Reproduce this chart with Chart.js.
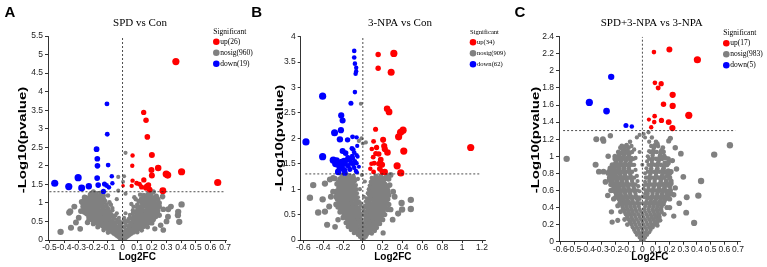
<!DOCTYPE html>
<html>
<head>
<meta charset="utf-8">
<script src="https://cdn.jsdelivr.net/npm/chart.js@4.4.1/dist/chart.umd.min.js"></script>
<style>
html, body { margin: 0; padding: 0; background: #fff; }
#wrap { position: relative; width: 767px; height: 267px; overflow: hidden; background: #fff; }
canvas { position: absolute; top: 0; }
</style>
</head>
<body>
<div id="wrap">
  <canvas id="chartA" width="256" height="267" style="left:0px"></canvas>
  <canvas id="chartB" width="262" height="267" style="left:250px"></canvas>
  <canvas id="chartC" width="257" height="267" style="left:510px"></canvas>
</div>
<script>
/* threshold lines */
const pThreshold = 1.3;

/* panel A: SPD vs Con */
const titleA = "SPD vs Con";
const legendA = ["up(26)", "nosig(960)", "down(19)"];
const xTicksA = [-0.5, -0.4, -0.3, -0.2, -0.1, 0, 0.1, 0.2, 0.3, 0.4, 0.5, 0.6, 0.7];
const yTicksA = [0, 0.5, 1, 1.5, 2, 2.5, 3, 3.5, 4, 4.5, 5, 5.5];
const upA = [[0.364,4.81],[0.144,3.44],[0.160,3.23],[0.169,2.78],[0.200,2.29],[0.068,2.28],[0.066,2.00],[0.243,1.94],[0.197,1.89],[0.200,1.74],[0.298,1.78],[0.308,1.75],[0.403,1.84],[0.650,1.55],[0.068,1.60],[0.096,1.53],[0.145,1.62],[0.062,1.46],[0.130,1.43],[0.159,1.40],[0.176,1.48],[0.165,1.45],[0.275,1.33],[0.003,1.46],[0.115,1.50],[0.185,1.36]];
const downA = [[-0.107,3.67],[-0.105,2.85],[-0.178,2.45],[-0.173,2.19],[-0.172,2.00],[-0.099,2.02],[-0.074,1.72],[-0.174,1.67],[-0.304,1.68],[-0.464,1.53],[-0.368,1.44],[-0.280,1.40],[-0.231,1.45],[-0.167,1.48],[-0.124,1.51],[-0.070,1.53],[-0.094,1.42],[-0.131,1.31],[-0.110,1.47]];
const nosigA = [
[-0.01,0.02],[0.01,0.02],[-0.02,0.05],[0,0.05],[0.02,0.05],
[-0.03,0.08],[-0.01,0.08],[0.01,0.08],[0.03,0.08],
[-0.04,0.11],[-0.02,0.11],[0,0.11],[0.02,0.11],[0.04,0.11],
[-0.05,0.14],[-0.03,0.14],[0,0.14],[0.03,0.14],[0.05,0.14],
[-0.06,0.17],[-0.035,0.17],[-0.01,0.17],[0.015,0.17],[0.04,0.17],[0.06,0.17],
[-0.07,0.2],[-0.045,0.2],[-0.02,0.2],[0.005,0.2],[0.03,0.2],[0.055,0.2],[0.075,0.2],
[-0.08,0.23],[-0.055,0.23],[-0.03,0.23],[0,0.23],[0.025,0.23],[0.05,0.23],[0.08,0.23],
[-0.09,0.26],[-0.06,0.26],[-0.035,0.26],[-0.01,0.26],[0.02,0.26],[0.045,0.26],[0.07,0.26],[0.095,0.26],
[-0.1,0.29],[-0.075,0.29],[-0.045,0.29],[-0.015,0.3],[0.03,0.29],[0.06,0.29],[0.085,0.29],[0.11,0.29],
[-0.115,0.32],[-0.085,0.32],[-0.055,0.32],[-0.02,0.33],[0.01,0.34],[0.04,0.32],[0.07,0.32],[0.1,0.32],[0.125,0.32],
[-0.13,0.35],[-0.1,0.35],[-0.065,0.35],[0.05,0.35],[0.08,0.35],[0.11,0.35],[0.14,0.35],
[-0.14,0.38],[-0.11,0.38],[-0.08,0.38],[-0.045,0.38],[0.045,0.38],[0.075,0.38],[0.1,0.38],[0.13,0.38],[0.155,0.38],
[-0.155,0.42],[-0.12,0.42],[-0.09,0.42],[-0.055,0.42],[-0.02,0.44],[0.02,0.45],[0.055,0.42],[0.09,0.42],[0.12,0.42],[0.16,0.42],
[-0.17,0.45],[-0.135,0.45],[-0.1,0.45],[-0.065,0.45],[0.06,0.45],[0.1,0.45],[0.135,0.45],[0.17,0.45],
[-0.18,0.49],[-0.145,0.49],[-0.11,0.49],[-0.075,0.49],[0.07,0.49],[0.105,0.49],[0.14,0.49],[0.175,0.49],
[-0.19,0.53],[-0.155,0.53],[-0.12,0.53],[-0.085,0.53],[-0.04,0.55],[0.04,0.56],[0.08,0.53],[0.115,0.53],[0.15,0.53],[0.185,0.53],
[-0.2,0.57],[-0.165,0.57],[-0.13,0.57],[-0.095,0.57],[0.085,0.57],[0.125,0.57],[0.16,0.57],[0.195,0.57],
[-0.21,0.61],[-0.175,0.61],[-0.14,0.61],[-0.1,0.61],[0.095,0.61],[0.135,0.61],[0.17,0.61],[0.2,0.61],
[-0.22,0.65],[-0.185,0.65],[-0.15,0.65],[-0.11,0.65],[-0.05,0.66],[0.05,0.68],[0.1,0.65],[0.14,0.65],[0.18,0.65],[0.21,0.65],
[-0.225,0.69],[-0.19,0.69],[-0.155,0.69],[-0.115,0.69],[0.11,0.69],[0.15,0.69],[0.19,0.69],
[-0.23,0.73],[-0.195,0.73],[-0.16,0.73],[-0.12,0.73],[0.115,0.73],[0.155,0.73],[0.2,0.73],
[-0.24,0.78],[-0.2,0.78],[-0.165,0.78],[-0.125,0.78],[-0.07,0.8],[0.07,0.8],[0.12,0.78],[0.165,0.78],[0.205,0.78],
[-0.25,0.83],[-0.21,0.83],[-0.17,0.83],[-0.13,0.83],[0.13,0.83],[0.17,0.83],[0.215,0.83],
[-0.245,0.88],[-0.215,0.88],[-0.18,0.88],[-0.14,0.88],[0.135,0.88],[0.18,0.88],[0.22,0.88],
[-0.25,0.93],[-0.22,0.93],[-0.185,0.93],[-0.145,0.93],[-0.08,0.95],[0.06,0.97],[0.14,0.93],[0.185,0.93],[0.225,0.93],
[-0.26,0.98],[-0.225,0.98],[-0.19,0.98],[-0.15,0.98],[0.145,0.98],[0.19,0.98],[0.24,0.98],
[-0.28,1.03],[-0.23,1.03],[-0.195,1.03],[-0.155,1.03],[0.15,1.03],[0.2,1.03],
[-0.24,1.08],[-0.2,1.08],[-0.16,1.08],[-0.04,1.1],[0.16,1.08],[0.205,1.08],
[-0.245,1.13],[-0.205,1.13],[-0.165,1.13],[0.08,1.15],[0.165,1.13],[0.21,1.13],
[-0.21,1.18],[-0.17,1.18],[-0.1,1.2],[0.17,1.18],[0.12,1.22],
[-0.22,1.23],[-0.15,1.27],[0.02,1.25],[0.175,1.23],[0.21,1.3],[-0.2,1.3],
[-0.03,1.7],[0.01,1.72],[0.02,2.35],[0.003,1.57],[-0.03,1.33],
[-0.424,0.22],[-0.353,0.33],[-0.365,0.74],[-0.358,0.77],[-0.319,0.47],[-0.285,0.78],[-0.27,1.0],[-0.24,0.47],[-0.228,0.63],[-0.3,0.6],[-0.33,0.9],[-0.29,0.3],
[0.278,0.83],[0.312,0.83],[0.31,0.63],[0.278,0.27],[0.38,0.76],[0.378,0.67],[0.403,0.96],[0.387,0.49],[0.25,0.67],[0.273,1.17],[0.3,0.5],[0.26,0.4],[0.33,0.9],[0.24,1.1],[0.22,0.3],
[-0.03,0.36],[0,0.37],[0.025,0.39],[-0.015,0.41],[-0.035,0.47],[0,0.48],[0.035,0.5],[-0.02,0.51],[0.015,0.53],[-0.06,0.6],[-0.025,0.6],[0.01,0.6],[0.05,0.61],
[-0.08,0.7],[-0.04,0.72],[0.02,0.72],[0.07,0.72],[-0.09,0.77],[0.09,0.76],[-0.1,0.85],[-0.07,0.86],[0.1,0.88],[0.075,0.9],[-0.11,0.95],[0.1,0.95],
[-0.12,1.05],[-0.09,1.02],[0.11,1.04],[0.09,1.1],[-0.13,1.12],[0.125,1.1],[-0.07,0.66],[0.075,0.64],[-0.085,0.5],[0.085,0.48],[-0.1,0.42],[-0.11,0.9],
[0.11,0.82],[-0.095,0.68],[0.095,0.7],[-0.13,1.2],[0.14,1.2],[-0.18,1.25],[0.19,1.26],[-0.26,1.15],[0.23,1.18],[-0.27,0.9],[0.25,0.9],[-0.26,0.75],
[0.24,0.78],[-0.23,0.55],[0.21,0.55],[-0.2,0.44],[0.2,0.46],[-0.17,0.35],[0.17,0.35],[-0.13,0.27],[0.13,0.26],[-0.1,0.2],[0.1,0.21],
[-0.165,0.4],[-0.13,0.4],[-0.095,0.4],[-0.06,0.4],[0.065,0.4],[0.105,0.4],[0.145,0.4],
[-0.19,0.47],[-0.155,0.47],[-0.12,0.47],[-0.085,0.47],[-0.05,0.47],[0.05,0.47],[0.085,0.47],[0.12,0.47],[0.155,0.47],[0.19,0.47],
[-0.21,0.55],[-0.175,0.55],[-0.14,0.55],[-0.105,0.55],[-0.065,0.55],[0.065,0.55],[0.1,0.55],[0.135,0.55],[0.17,0.55],[0.205,0.55],
[-0.23,0.63],[-0.195,0.63],[-0.16,0.63],[-0.125,0.63],[-0.085,0.63],[0.08,0.63],[0.115,0.63],[0.155,0.63],[0.19,0.63],[0.225,0.63],
[-0.245,0.71],[-0.21,0.71],[-0.175,0.71],[-0.14,0.71],[-0.1,0.71],[0.1,0.71],[0.13,0.71],[0.17,0.71],[0.21,0.71],[0.235,0.71],
[-0.26,0.8],[-0.225,0.8],[-0.185,0.8],[-0.145,0.8],[-0.105,0.8],[0.1,0.8],[0.145,0.8],[0.185,0.8],[0.225,0.8],
[-0.265,0.9],[-0.23,0.9],[-0.195,0.9],[-0.16,0.9],[-0.125,0.9],[0.12,0.9],[0.16,0.9],[0.2,0.9],[0.24,0.9],
[-0.27,1.0],[-0.24,1.0],[-0.21,1.0],[-0.17,1.0],[-0.135,1.0],[0.13,1.0],[0.17,1.0],[0.215,1.0],[0.25,1.0],
[-0.26,1.1],[-0.22,1.1],[-0.18,1.1],[-0.145,1.1],[0.14,1.1],[0.185,1.1],[0.225,1.1],
[-0.19,1.2],[-0.15,1.2],[0.15,1.2],[0.195,1.2]
];

/* panel B: 3-NPA vs Con */
const titleB = "3-NPA vs Con";
const legendB = ["up(34)", "nosig(909)", "down(62)"];
const xTicksB = [-0.6, -0.4, -0.2, 0, 0.2, 0.4, 0.6, 0.8, 1, 1.2];
const yTicksB = [0, 0.5, 1, 1.5, 2, 2.5, 3, 3.5, 4];
const upB = [[0.154,3.65],[0.312,3.67],[0.154,3.38],[0.285,3.30],[0.244,2.58],[0.264,2.52],[0.128,2.18],[0.405,2.16],[0.380,2.12],[0.360,2.03],[0.108,1.94],[0.204,1.97],[0.138,1.82],[0.215,1.85],[0.221,1.79],[0.090,1.79],[0.160,1.69],[0.248,1.72],[0.104,1.63],[0.412,1.75],[1.086,1.82],[0.087,1.50],[0.114,1.51],[0.161,1.50],[0.194,1.48],[0.345,1.46],[0.171,1.40],[0.198,1.34],[0.221,1.34],[0.382,1.32],[0.108,1.34],[0.180,1.58],[0.130,1.70],[0.075,1.40]];
const downB = [[-0.087,3.72],[-0.087,3.59],[-0.080,3.47],[-0.067,3.39],[-0.067,3.32],[-0.073,3.27],[-0.080,2.91],[-0.405,2.83],[-0.120,2.69],[-0.218,2.45],[-0.204,2.35],[-0.285,2.11],[-0.221,2.16],[-0.573,1.93],[-0.231,1.98],[-0.154,1.97],[-0.104,2.03],[-0.063,2.02],[-0.057,1.85],[-0.204,1.75],[-0.174,1.71],[-0.097,1.78],[-0.087,1.72],[-0.107,1.65],[-0.063,1.67],[-0.405,1.64],[-0.298,1.57],[-0.265,1.56],[-0.214,1.54],[-0.164,1.57],[-0.131,1.59],[-0.080,1.55],[-0.053,1.64],[-0.248,1.48],[-0.181,1.50],[-0.148,1.46],[-0.097,1.48],[-0.063,1.51],[-0.231,1.41],[-0.188,1.38],[-0.131,1.39],[-0.087,1.42],[-0.040,1.44],[-0.248,1.34],[-0.181,1.32],[-0.070,1.36],[-0.214,1.45],[-0.120,1.52],[-0.150,1.62],[-0.110,1.80],[-0.190,1.56],[-0.060,1.33],[-0.275,1.50],[-0.100,1.60]];
const nosigB = [
[-0.01,0.02],[0.01,0.03],[-0.03,0.06],[0,0.06],[0.03,0.06],
[-0.05,0.1],[-0.02,0.1],[0.01,0.1],[0.04,0.1],
[-0.06,0.14],[-0.03,0.14],[0,0.14],[0.03,0.14],[0.06,0.14],
[-0.08,0.18],[-0.045,0.18],[-0.01,0.18],[0.02,0.18],[0.05,0.18],[0.08,0.18],
[-0.1,0.22],[-0.065,0.22],[-0.03,0.22],[0,0.22],[0.035,0.22],[0.07,0.22],[0.1,0.22],
[-0.12,0.26],[-0.085,0.26],[-0.05,0.26],[-0.015,0.26],[0.02,0.26],[0.055,0.26],[0.09,0.26],[0.12,0.26],
[-0.13,0.3],[-0.095,0.3],[-0.06,0.3],[-0.025,0.3],[0.01,0.3],[0.045,0.3],[0.08,0.3],[0.115,0.3],[0.14,0.3],
[-0.14,0.34],[-0.105,0.34],[-0.07,0.34],[-0.035,0.34],[0,0.34],[0.035,0.34],[0.07,0.34],[0.105,0.34],[0.14,0.34],
[-0.15,0.38],[-0.115,0.38],[-0.08,0.38],[-0.045,0.38],[-0.01,0.38],[0.03,0.38],[0.065,0.38],[0.1,0.38],[0.135,0.38],[0.16,0.38],
[-0.16,0.42],[-0.125,0.42],[-0.09,0.42],[-0.055,0.42],[-0.02,0.42],[0.025,0.42],[0.06,0.42],[0.095,0.42],[0.13,0.42],[0.165,0.42],
[-0.17,0.46],[-0.135,0.46],[-0.1,0.46],[-0.065,0.46],[-0.03,0.46],[0.03,0.46],[0.065,0.46],[0.1,0.46],[0.135,0.46],[0.17,0.46],
[-0.18,0.5],[-0.145,0.5],[-0.11,0.5],[-0.075,0.5],[-0.04,0.5],[0.035,0.5],[0.07,0.5],[0.105,0.5],[0.14,0.5],[0.175,0.5],
[-0.19,0.54],[-0.155,0.54],[-0.12,0.54],[-0.085,0.54],[-0.05,0.54],[0.04,0.54],[0.075,0.54],[0.11,0.54],[0.145,0.54],[0.18,0.54],
[-0.2,0.58],[-0.165,0.58],[-0.13,0.58],[-0.095,0.58],[-0.055,0.58],[0.045,0.58],[0.08,0.58],[0.115,0.58],[0.15,0.58],[0.19,0.58],
[-0.21,0.62],[-0.175,0.62],[-0.14,0.62],[-0.1,0.62],[-0.06,0.62],[0.05,0.62],[0.085,0.62],[0.12,0.62],[0.16,0.62],[0.2,0.62],
[-0.215,0.66],[-0.18,0.66],[-0.145,0.66],[-0.105,0.66],[-0.065,0.66],[0.055,0.66],[0.09,0.66],[0.13,0.66],[0.17,0.66],[0.21,0.66],
[-0.22,0.7],[-0.185,0.7],[-0.15,0.7],[-0.11,0.7],[-0.07,0.7],[-0.02,0.72],[0.06,0.7],[0.1,0.7],[0.14,0.7],[0.18,0.7],[0.22,0.7],
[-0.225,0.74],[-0.19,0.74],[-0.155,0.74],[-0.115,0.74],[-0.075,0.74],[0.065,0.74],[0.105,0.74],[0.145,0.74],[0.185,0.74],[0.225,0.74],
[-0.23,0.78],[-0.195,0.78],[-0.16,0.78],[-0.12,0.78],[-0.08,0.78],[0.07,0.78],[0.11,0.78],[0.15,0.78],[0.19,0.78],[0.23,0.78],
[-0.235,0.82],[-0.2,0.82],[-0.165,0.82],[-0.125,0.82],[-0.085,0.82],[0.075,0.82],[0.115,0.82],[0.155,0.82],[0.195,0.82],[0.235,0.82],
[-0.24,0.86],[-0.205,0.86],[-0.17,0.86],[-0.13,0.86],[-0.09,0.86],[0.01,0.85],[0.08,0.86],[0.12,0.86],[0.16,0.86],[0.2,0.86],[0.24,0.86],
[-0.245,0.9],[-0.21,0.9],[-0.175,0.9],[-0.135,0.9],[-0.095,0.9],[0.085,0.9],[0.125,0.9],[0.165,0.9],[0.205,0.9],
[-0.25,0.94],[-0.215,0.94],[-0.18,0.94],[-0.14,0.94],[-0.1,0.94],[0.09,0.94],[0.13,0.94],[0.17,0.94],[0.21,0.94],[0.25,0.94],
[-0.215,0.98],[-0.18,0.98],[-0.14,0.98],[-0.1,0.98],[-0.03,1.0],[0.095,0.98],[0.135,0.98],[0.175,0.98],[0.215,0.98],
[-0.22,1.02],[-0.185,1.02],[-0.145,1.02],[-0.105,1.02],[0.1,1.02],[0.14,1.02],[0.18,1.02],[0.22,1.02],
[-0.225,1.06],[-0.19,1.06],[-0.15,1.06],[-0.11,1.06],[0.105,1.06],[0.145,1.06],[0.185,1.06],
[-0.23,1.1],[-0.195,1.1],[-0.155,1.1],[-0.115,1.1],[0.11,1.1],[0.15,1.1],[0.19,1.1],
[-0.2,1.14],[-0.16,1.14],[-0.12,1.14],[0.02,1.15],[0.115,1.14],[0.155,1.14],[0.2,1.14],
[-0.205,1.18],[-0.165,1.18],[-0.125,1.18],[0.12,1.18],[0.16,1.18],
[-0.17,1.22],[-0.13,1.22],[-0.09,1.22],[0.125,1.22],[0.17,1.22],
[-0.135,1.26],[-0.095,1.26],[-0.01,1.28],[0.13,1.26],[0.18,1.26],
[-0.04,1.95],[0.0,1.9],[-0.02,2.68],[-0.013,2.0],[0.03,1.92],
[-0.5,1.08],[-0.533,0.83],[-0.45,0.54],[-0.382,0.56],[-0.405,0.8],[-0.382,1.11],[-0.332,1.19],[-0.282,1.21],[-0.322,0.85],[-0.339,0.66],[-0.28,0.26],[-0.3,0.95],[-0.27,0.7],[-0.25,0.4],[-0.26,1.1],[-0.36,0.3],
[0.483,0.79],[0.483,0.61],[0.39,0.73],[0.395,0.6],[0.32,0.85],[0.305,0.95],[0.27,1.08],[0.204,0.14],[0.355,0.52],[0.28,0.6],[0.3,0.4],[0.26,1.2],
[-0.02,0.52],[0.01,0.55],[-0.03,0.6],[0.01,0.62],[-0.02,0.67],[0.02,0.68],[-0.04,0.76],[0.03,0.76],[-0.05,0.84],[0.04,0.82],[-0.06,0.92],[0.05,0.92],
[0.06,1.0],[-0.065,1.0],[-0.07,1.08],[0.07,1.07],[-0.08,1.16],[0.08,1.14],[-0.05,1.2],[0.09,1.22],[0.2,1.22],[0.24,1.26],[0.28,1.28],[0.22,1.1],
[0.24,1.04],[0.25,0.98],[-0.24,1.0],[-0.24,1.14],[-0.3,1.22],[-0.21,1.26],[-0.16,1.28],[-0.27,0.85],[0.26,0.7],[0.25,0.6],[-0.25,0.65],[-0.23,0.55],
[0.22,0.5],[-0.2,0.44],[0.2,0.4],[-0.17,0.34],[0.17,0.32],[-0.15,0.26],[0.14,0.24],[-0.12,0.2],[0.12,0.18],[-0.09,0.14],[0.09,0.13],
[-0.19,0.48],[-0.155,0.48],[-0.12,0.48],[-0.085,0.48],[-0.05,0.48],[-0.015,0.48],[0.015,0.48],[0.05,0.48],[0.085,0.48],[0.12,0.48],[0.155,0.48],[0.19,0.48],
[-0.21,0.56],[-0.175,0.56],[-0.14,0.56],[-0.105,0.56],[-0.07,0.56],[-0.035,0.56],[0.025,0.56],[0.06,0.56],[0.095,0.56],[0.13,0.56],[0.17,0.56],[0.205,0.56],
[-0.23,0.64],[-0.195,0.64],[-0.16,0.64],[-0.12,0.64],[-0.08,0.64],[-0.045,0.64],[0.035,0.64],[0.07,0.64],[0.105,0.64],[0.145,0.64],[0.185,0.64],[0.225,0.64],
[-0.245,0.72],[-0.205,0.72],[-0.17,0.72],[-0.13,0.72],[-0.09,0.72],[-0.05,0.72],[0.045,0.72],[0.08,0.72],[0.12,0.72],[0.16,0.72],[0.2,0.72],[0.24,0.72],
[-0.255,0.8],[-0.215,0.8],[-0.18,0.8],[-0.14,0.8],[-0.1,0.8],[-0.065,0.8],[0.055,0.8],[0.09,0.8],[0.13,0.8],[0.17,0.8],[0.21,0.8],[0.25,0.8],
[-0.26,0.88],[-0.225,0.88],[-0.19,0.88],[-0.15,0.88],[-0.11,0.88],[-0.075,0.88],[0.065,0.88],[0.1,0.88],[0.14,0.88],[0.18,0.88],[0.22,0.88],[0.26,0.88],
[-0.265,0.96],[-0.235,0.96],[-0.2,0.96],[-0.16,0.96],[-0.12,0.96],[-0.085,0.96],[0.075,0.96],[0.115,0.96],[0.155,0.96],[0.195,0.96],[0.235,0.96],
[-0.24,1.04],[-0.205,1.04],[-0.165,1.04],[-0.125,1.04],[-0.09,1.04],[0.085,1.04],[0.12,1.04],[0.16,1.04],[0.2,1.04],
[-0.245,1.12],[-0.21,1.12],[-0.175,1.12],[-0.135,1.12],[-0.1,1.12],[0.09,1.12],[0.13,1.12],[0.17,1.12],[0.21,1.12],
[-0.23,1.2],[-0.185,1.2],[-0.145,1.2],[-0.105,1.2],[0.1,1.2],[0.14,1.2],[0.18,1.2],[0.22,1.2]
];

/* panel C: SPD+3-NPA vs 3-NPA */
const titleC = "SPD+3-NPA vs 3-NPA";
const legendC = ["up(17)", "nosig(983)", "down(5)"];
const xTicksC = [-0.6, -0.5, -0.4, -0.3, -0.2, -0.1, 0, 0.1, 0.2, 0.3, 0.4, 0.5, 0.6, 0.7];
const yTicksC = [0, 0.2, 0.4, 0.6, 0.8, 1, 1.2, 1.4, 1.6, 1.8, 2, 2.2, 2.4];
const upC = [[0.085,2.22],[0.198,2.25],[0.403,2.13],[0.092,1.86],[0.138,1.85],[0.116,1.80],[0.222,1.72],[0.155,1.61],[0.222,1.59],[0.340,1.48],[0.090,1.47],[0.048,1.43],[0.087,1.40],[0.140,1.42],[0.193,1.40],[0.065,1.34],[0.220,1.33]];
const downC = [[-0.228,1.93],[-0.388,1.63],[-0.262,1.53],[-0.120,1.36],[-0.077,1.35]];
const nosigC = [
[-0.01,0.02],[0.01,0.02],[-0.02,0.05],[0,0.05],[0.02,0.05],
[-0.04,0.08],[-0.015,0.08],[0.01,0.08],[0.035,0.08],
[-0.05,0.11],[-0.025,0.11],[0,0.11],[0.025,0.11],[0.05,0.11],
[-0.06,0.14],[-0.03,0.14],[0,0.14],[0.03,0.14],[0.06,0.14],
[-0.07,0.17],[-0.04,0.17],[-0.01,0.17],[0.02,0.17],[0.05,0.17],[0.075,0.17],
[-0.08,0.2],[-0.05,0.2],[-0.02,0.2],[0.01,0.2],[0.04,0.2],[0.07,0.2],[0.09,0.2],
[-0.09,0.23],[-0.06,0.23],[-0.03,0.23],[0,0.23],[0.03,0.23],[0.06,0.23],[0.09,0.23],[0.11,0.23],
[-0.1,0.26],[-0.07,0.26],[-0.04,0.26],[-0.01,0.26],[0.02,0.26],[0.05,0.26],[0.08,0.26],[0.11,0.26],
[-0.11,0.29],[-0.08,0.29],[-0.05,0.29],[-0.02,0.29],[0.01,0.29],[0.04,0.29],[0.07,0.29],[0.1,0.29],[0.125,0.29],
[-0.12,0.32],[-0.09,0.32],[-0.06,0.32],[-0.03,0.32],[0,0.32],[0.03,0.32],[0.06,0.32],[0.09,0.32],[0.12,0.32],
[-0.13,0.35],[-0.1,0.35],[-0.07,0.35],[-0.04,0.35],[-0.01,0.35],[0.02,0.35],[0.05,0.35],[0.08,0.35],[0.11,0.35],[0.14,0.35],
[-0.14,0.38],[-0.11,0.38],[-0.08,0.38],[-0.05,0.38],[-0.02,0.38],[0.015,0.38],[0.045,0.38],[0.075,0.38],[0.105,0.38],[0.135,0.38],
[-0.145,0.41],[-0.115,0.41],[-0.085,0.41],[-0.055,0.41],[-0.025,0.41],[0.02,0.41],[0.05,0.41],[0.08,0.41],[0.11,0.41],[0.14,0.41],
[-0.15,0.44],[-0.12,0.44],[-0.09,0.44],[-0.06,0.44],[-0.03,0.44],[0.025,0.44],[0.055,0.44],[0.085,0.44],[0.12,0.44],[0.155,0.44],
[-0.16,0.47],[-0.13,0.47],[-0.1,0.47],[-0.07,0.47],[-0.035,0.47],[0.03,0.47],[0.06,0.47],[0.09,0.47],[0.125,0.47],[0.16,0.47],
[-0.17,0.5],[-0.14,0.5],[-0.11,0.5],[-0.075,0.5],[-0.04,0.5],[0.035,0.5],[0.065,0.5],[0.1,0.5],[0.135,0.5],[0.17,0.5],[0.2,0.5],
[-0.18,0.53],[-0.15,0.53],[-0.115,0.53],[-0.08,0.53],[-0.045,0.53],[0.035,0.53],[0.07,0.53],[0.105,0.53],[0.14,0.53],[0.175,0.53],
[-0.19,0.56],[-0.16,0.56],[-0.125,0.56],[-0.09,0.56],[-0.05,0.56],[0.04,0.56],[0.075,0.56],[0.11,0.56],[0.145,0.56],[0.18,0.56],[0.21,0.56],
[-0.2,0.59],[-0.165,0.59],[-0.13,0.59],[-0.095,0.59],[-0.055,0.59],[0.04,0.59],[0.075,0.59],[0.115,0.59],[0.15,0.59],[0.19,0.59],
[-0.2,0.62],[-0.17,0.62],[-0.135,0.62],[-0.1,0.62],[-0.06,0.62],[0.045,0.62],[0.08,0.62],[0.12,0.62],[0.16,0.62],
[-0.21,0.65],[-0.175,0.65],[-0.14,0.65],[-0.105,0.65],[-0.065,0.65],[0.045,0.65],[0.085,0.65],[0.125,0.65],[0.165,0.65],[0.2,0.65],
[-0.215,0.68],[-0.18,0.68],[-0.145,0.68],[-0.11,0.68],[-0.07,0.68],[0.05,0.68],[0.09,0.68],[0.13,0.68],[0.17,0.68],
[-0.22,0.71],[-0.185,0.71],[-0.15,0.71],[-0.115,0.71],[-0.075,0.71],[0.05,0.71],[0.09,0.71],[0.135,0.71],[0.175,0.71],[0.21,0.71],
[-0.22,0.74],[-0.19,0.74],[-0.155,0.74],[-0.12,0.74],[-0.08,0.74],[0.055,0.74],[0.095,0.74],[0.14,0.74],
[-0.225,0.77],[-0.195,0.77],[-0.16,0.77],[-0.125,0.77],[-0.085,0.77],[0.055,0.77],[0.1,0.77],[0.145,0.77],[0.18,0.77],
[-0.23,0.8],[-0.2,0.8],[-0.165,0.8],[-0.13,0.8],[-0.09,0.8],[0.02,0.8],[0.06,0.8],[0.1,0.8],[0.15,0.8],
[-0.23,0.83],[-0.2,0.83],[-0.17,0.83],[-0.135,0.83],[-0.095,0.83],[0.06,0.83],[0.105,0.83],[0.15,0.83],[0.19,0.83],
[-0.235,0.86],[-0.205,0.86],[-0.17,0.86],[-0.135,0.86],[-0.1,0.86],[0.065,0.86],[0.11,0.86],[0.155,0.86],
[-0.2,0.89],[-0.165,0.89],[-0.13,0.89],[-0.095,0.89],[0,0.9],[0.065,0.89],[0.11,0.89],[0.16,0.89],
[-0.195,0.92],[-0.16,0.92],[-0.125,0.92],[-0.09,0.92],[0.07,0.92],[0.115,0.92],[0.165,0.92],
[-0.19,0.95],[-0.155,0.95],[-0.12,0.95],[-0.085,0.95],[0.07,0.95],[0.12,0.95],
[-0.18,0.98],[-0.145,0.98],[-0.11,0.98],[-0.08,0.98],[0.075,0.98],[0.125,0.98],[0.17,0.98],
[-0.17,1.01],[-0.135,1.01],[-0.1,1.01],[0.075,1.01],[0.13,1.01],
[-0.155,1.04],[-0.12,1.04],[-0.09,1.04],[-0.02,1.05],[0.08,1.04],[0.135,1.04],
[-0.14,1.07],[-0.11,1.07],[0.08,1.07],[0.14,1.07],
[-0.13,1.1],[-0.1,1.1],[0.085,1.1],[0.15,1.1],
[-0.115,1.13],[0.09,1.13],
[-0.09,1.17],[0.05,1.17],[0.1,1.17],
[-0.04,1.22],[0.02,1.22],[0.07,1.22],
[0.01,1.26],[-0.02,1.25],[0.045,1.28],
[-0.554,0.97],[-0.337,1.2],[-0.289,1.2],[-0.284,1.18],[-0.234,1.24],[-0.342,0.9],[-0.318,0.82],[-0.284,0.82],[-0.253,0.54],[-0.226,0.35],[-0.221,0.23],[-0.27,0.7],[-0.25,1.0],[-0.18,0.25],
[0.641,1.13],[0.526,1.02],[0.43,0.71],[0.41,0.54],[0.379,0.22],[0.325,0.52],[0.321,0.34],[0.282,1.03],[0.241,1.1],[0.205,1.21],[0.193,1.18],[0.3,0.76],[0.241,0.63],[0.22,0.95],[0.25,0.85],[0.2,0.4],[0.27,0.45],[0.23,0.3],
[-0.02,0.5],[0,0.53],[0.02,0.56],[-0.02,0.59],[0.01,0.62],[-0.03,0.65],[0.015,0.66],[-0.035,0.71],[0.02,0.7],[-0.04,0.77],[0.025,0.75],[-0.05,0.84],
[0.03,0.86],[-0.06,0.9],[0.035,0.94],[-0.05,0.98],[0.04,1.0],[-0.06,1.08],[0.05,1.06],[-0.16,1.1],[0.11,1.15],[-0.2,1.0],[0.16,1.0],[0.19,0.92],
[0.2,0.8],[0.21,0.68],[0.23,0.55],[-0.24,0.72],[-0.25,0.8],[-0.23,0.6],[-0.21,0.5],[-0.18,0.42],[0.18,0.4],[-0.16,0.35],[0.16,0.32],[-0.13,0.26],
[0.13,0.25],[-0.11,0.2],[0.11,0.19],
[-0.165,0.45],[-0.135,0.45],[-0.105,0.45],[-0.075,0.45],[-0.045,0.45],[-0.015,0.45],[0.01,0.45],[0.04,0.45],[0.07,0.45],[0.1,0.45],[0.135,0.45],
[-0.195,0.52],[-0.16,0.52],[-0.13,0.52],[-0.095,0.52],[-0.06,0.52],[-0.025,0.52],[0.015,0.52],[0.05,0.52],[0.085,0.52],[0.12,0.52],[0.155,0.52],[0.19,0.52],
[-0.215,0.6],[-0.18,0.6],[-0.145,0.6],[-0.11,0.6],[-0.075,0.6],[-0.035,0.6],[0.025,0.6],[0.06,0.6],[0.095,0.6],[0.135,0.6],[0.17,0.6],[0.205,0.6],
[-0.23,0.67],[-0.195,0.67],[-0.16,0.67],[-0.125,0.67],[-0.09,0.67],[-0.05,0.67],[0.03,0.67],[0.07,0.67],[0.11,0.67],[0.15,0.67],[0.19,0.67],
[-0.24,0.75],[-0.205,0.75],[-0.17,0.75],[-0.14,0.75],[-0.1,0.75],[-0.06,0.75],[0.035,0.75],[0.075,0.75],[0.12,0.75],[0.16,0.75],[0.2,0.75],
[-0.245,0.82],[-0.215,0.82],[-0.185,0.82],[-0.15,0.82],[-0.115,0.82],[-0.075,0.82],[0.04,0.82],[0.085,0.82],[0.125,0.82],[0.17,0.82],[0.21,0.82],
[-0.22,0.9],[-0.185,0.9],[-0.145,0.9],[-0.11,0.9],[-0.075,0.9],[0.045,0.9],[0.09,0.9],[0.135,0.9],[0.18,0.9],
[-0.2,0.97],[-0.165,0.97],[-0.13,0.97],[-0.095,0.97],[-0.065,0.97],[0.05,0.97],[0.1,0.97],[0.145,0.97],[0.19,0.97],
[-0.175,1.05],[-0.14,1.05],[-0.105,1.05],[-0.075,1.05],[0.06,1.05],[0.105,1.05],[0.155,1.05],
[-0.15,1.12],[-0.12,1.12],[-0.08,1.12],[0.065,1.12],[0.115,1.12]
];

const RED = "#ff0000", GRAY = "#808080", BLUE = "#0000ff";
const SANS = '"Liberation Sans", Arial, sans-serif';
const SERIF = '"Liberation Serif", "Times New Roman", serif';

// bigger fold change -> bigger dot
function sigRadius(ctx) {
  const p = ctx.raw;
  return p ? Math.min(3.6, 1.8 + 6 * Math.abs(p.x)) : 2;
}
function grayRadius(ctx) {
  const p = ctx.raw;
  return p ? Math.min(3.2, 2.0 + 3 * Math.abs(p.x)) : 2;
}

const toXY = arr => arr.map(p => ({x: p[0], y: p[1]}));

// panel letter, title, y axis title and the "Significant" key
const panelText = {
  id: "panelText",
  afterDraw(chart, args, o) {
    const ctx = chart.ctx;
    ctx.save();
    ctx.textBaseline = "middle";
    ctx.fillStyle = "#000";
    ctx.textAlign = "center";
    ctx.font = "bold 15px " + SANS;
    ctx.fillText(o.letter, o.letterX, 13);
    ctx.font = "11px " + SERIF;
    ctx.fillText(o.title, o.titleX, 23);

    // the y title in the figure is drawn long and narrow
    ctx.save();
    ctx.translate(o.yTitleX, o.yTitleY);
    ctx.rotate(-Math.PI / 2);
    ctx.scale(1.5, 1);
    ctx.font = "bold 10px " + SANS;
    ctx.fillText("-Log10(pvalue)", 0, 0);
    ctx.restore();

    ctx.textAlign = "left";
    ctx.font = o.legFont + "px " + SERIF;
    ctx.fillText("Significant", o.legX, o.legY);
    const cols = [RED, GRAY, BLUE];
    o.labels.forEach((lab, i) => {
      const y = o.legY + 10 + i * 11;
      ctx.beginPath();
      ctx.arc(o.legX + 3, y, 3.3, 0, Math.PI * 2);
      ctx.fillStyle = cols[i];
      ctx.fill();
      ctx.fillStyle = "#000";
      ctx.fillText(lab, o.legX + 7, y);
    });
    ctx.restore();
  }
};

function volcano(id, cfg) {
  const ctx = document.getElementById(id).getContext("2d");
  const dash = {
    type: "scatter", showLine: true, pointRadius: 0, borderColor: "#222",
    borderWidth: 0.8, borderDash: [2, 2], fill: false
  };
  return new Chart(ctx, {
    type: "scatter",
    data: {
      datasets: [
        Object.assign({data: [{x: 0, y: 0}, {x: 0, y: cfg.yTicks[cfg.yTicks.length - 1]}]}, dash),
        Object.assign({data: [{x: cfg.hLine[0], y: pThreshold}, {x: cfg.hLine[1], y: pThreshold}]}, dash),
        {label: "up", data: toXY(cfg.up), backgroundColor: RED, borderWidth: 0, pointRadius: sigRadius},
        {label: "down", data: toXY(cfg.down), backgroundColor: BLUE, borderWidth: 0, pointRadius: sigRadius},
        {label: "nosig", data: toXY(cfg.nosig), backgroundColor: GRAY, borderWidth: 0, pointRadius: grayRadius}
      ]
    },
    options: {
      responsive: false,
      animation: false,
      events: [],
      layout: {padding: {left: 0, top: cfg.top, right: cfg.right, bottom: 0}},
      plugins: {
        legend: {display: false},
        tooltip: {enabled: false},
        panelText: cfg.text
      },
      scales: {
        x: {
          type: "linear", min: cfg.xMin, max: cfg.xMax,
          afterBuildTicks: s => { s.ticks = cfg.xTicks.map(v => ({value: v})); },
          afterFit: s => { s.height = cfg.xAxisH; },
          ticks: {autoSkip: false, maxRotation: 0, padding: 0, color: "#222",
                  font: {family: SANS, size: 8.5}, callback: v => String(v)},
          grid: {drawOnChartArea: false, drawTicks: true, tickLength: 3, color: "#000", lineWidth: 0.8},
          border: {color: "#000", width: 0.8},
          title: {display: true, text: "Log2FC", color: "#000",
                  font: {family: SANS, size: 10, weight: "bold"}, padding: {top: 0, bottom: 3.6}}
        },
        y: {
          type: "linear", min: 0, max: cfg.yTicks[cfg.yTicks.length - 1],
          afterBuildTicks: s => { s.ticks = cfg.yTicks.map(v => ({value: v})); },
          afterFit: s => { s.width = cfg.yAxisW; },
          ticks: {autoSkip: false, padding: 2, color: "#222",
                  font: {family: SANS, size: 8.5}, callback: v => String(v)},
          grid: {drawOnChartArea: false, drawTicks: true, tickLength: 3, color: "#000", lineWidth: 0.8},
          border: {color: "#000", width: 0.8},
          title: {display: false}
        }
      }
    },
    plugins: [panelText]
  });
}

volcano("chartA", {
  up: upA, down: downA, nosig: nosigA, xTicks: xTicksA, yTicks: yTicksA,
  xMin: -0.51, xMax: 0.71, hLine: [-0.5, 0.7],
  top: 36, right: 29.5, xAxisH: 27, yAxisW: 48,
  text: {letter: "A", letterX: 10, title: titleA, titleX: 140, yTitleX: 23, yTitleY: 140,
         legX: 213.3, legY: 31.7, legFont: 7.5, labels: legendA}
});
volcano("chartB", {
  up: upB, down: downB, nosig: nosigB, xTicks: xTicksB, yTicks: yTicksB,
  xMin: -0.626, xMax: 1.23, hLine: [-0.58, 1.18],
  top: 36.7, right: 27, xAxisH: 27, yAxisW: 50.7,
  text: {letter: "B", letterX: 6.7, title: titleB, titleX: 150, yTitleX: 30, yTitleY: 138,
         legX: 220, legY: 32.3, legFont: 6.6, labels: legendB}
});
volcano("chartC", {
  up: upC, down: downC, nosig: nosigC, xTicks: xTicksC, yTicks: yTicksC,
  xMin: -0.61, xMax: 0.72, hLine: [-0.58, 0.68],
  top: 36.7, right: 26.3, xAxisH: 25.3, yAxisW: 49,
  text: {letter: "C", letterX: 10, title: titleC, titleX: 141.7, yTitleX: 26, yTitleY: 140,
         legX: 213.3, legY: 33.3, legFont: 7.5, labels: legendC}
});
</script>
</body>
</html>
